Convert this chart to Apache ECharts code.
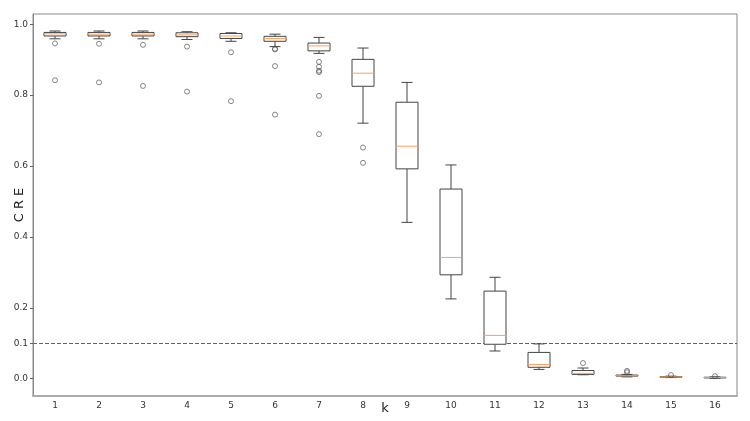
<!DOCTYPE html>
<html>
<head>
<meta charset="utf-8">
<script src="https://cdn.jsdelivr.net/npm/echarts@6/dist/echarts.min.js"></script>
<style>
  html, body { margin: 0; padding: 0; background: #fff; }
  #chart { width: 750px; height: 421px; }
</style>
</head>
<body>
<div id="chart"></div>
<script>
// k values on the x axis
const categories = ['1', '2', '3', '4', '5', '6', '7', '8', '9', '10', '11', '12', '13', '14', '15', '16'];

// box statistics per k
const whiskerLow  = [0.959, 0.959, 0.959, 0.957, 0.952, 0.937, 0.918, 0.721, 0.441, 0.225, 0.078, 0.026, 0.011, 0.005, 0.003, 0.001];
const q1          = [0.967, 0.967, 0.967, 0.965, 0.960, 0.952, 0.925, 0.825, 0.592, 0.293, 0.097, 0.032, 0.012, 0.007, 0.004, 0.002];
const median      = [0.973, 0.972, 0.972, 0.970, 0.967, 0.960, 0.939, 0.862, 0.656, 0.342, 0.122, 0.040, 0.015, 0.008, 0.005, 0.003];
const q3          = [0.977, 0.977, 0.977, 0.976, 0.974, 0.966, 0.947, 0.901, 0.780, 0.535, 0.247, 0.074, 0.023, 0.010, 0.006, 0.004];
const whiskerHigh = [0.981, 0.981, 0.981, 0.979, 0.976, 0.972, 0.963, 0.933, 0.836, 0.603, 0.286, 0.098, 0.030, 0.012, 0.007, 0.005];

// fliers: [category index, value]
const outliers = [
  [0, 0.946], [0, 0.842],
  [1, 0.945], [1, 0.836],
  [2, 0.942], [2, 0.826],
  [3, 0.937], [3, 0.810],
  [4, 0.921], [4, 0.783],
  [5, 0.931], [5, 0.929], [5, 0.882], [5, 0.745],
  [6, 0.894], [6, 0.880], [6, 0.869], [6, 0.865], [6, 0.798], [6, 0.690],
  [7, 0.652], [7, 0.609],
  [12, 0.044],
  [13, 0.022], [13, 0.018],
  [14, 0.010],
  [15, 0.007]
];

const yTicks = [0.0, 0.1, 0.2, 0.4, 0.6, 0.8, 1.0];
const threshold = 0.1;

const boxData = categories.map((c, i) => [i, whiskerLow[i], q1[i], median[i], q3[i], whiskerHigh[i]]);

const myChart = echarts.init(document.getElementById('chart'));

function renderBox(params, api) {
  const i = api.value(0);
  const lo = api.coord([i, api.value(1)]);
  const b1 = api.coord([i, api.value(2)]);
  const md = api.coord([i, api.value(3)]);
  const b3 = api.coord([i, api.value(4)]);
  const hi = api.coord([i, api.value(5)]);
  const w = api.size([1, 0])[0] * 0.5;
  const cx = lo[0];
  const stroke = { stroke: '#444', lineWidth: 1, fill: null };
  return {
    type: 'group',
    children: [
      { type: 'line', shape: { x1: cx, y1: hi[1], x2: cx, y2: b3[1] }, style: stroke },
      { type: 'line', shape: { x1: cx, y1: b1[1], x2: cx, y2: lo[1] }, style: stroke },
      { type: 'line', shape: { x1: cx - w / 4, y1: hi[1], x2: cx + w / 4, y2: hi[1] }, style: stroke },
      { type: 'line', shape: { x1: cx - w / 4, y1: lo[1], x2: cx + w / 4, y2: lo[1] }, style: stroke },
      { type: 'rect', shape: { x: cx - w / 2, y: b3[1], width: w, height: b1[1] - b3[1] },
        style: { stroke: '#444', lineWidth: 1, fill: '#fff' } },
      { type: 'line', shape: { x1: cx - w / 2, y1: md[1], x2: cx + w / 2, y2: md[1] },
        style: { stroke: '#f7a35c', lineWidth: 1 } }
    ]
  };
}

// horizontal reference line across the whole plot area
function renderThreshold(params, api) {
  const cs = params.coordSys;
  const y = Math.round(api.coord([0, api.value(1)])[1]) + 0.5;
  return {
    type: 'line',
    shape: { x1: cs.x, y1: y, x2: cs.x + cs.width, y2: y },
    style: { stroke: '#1f77b4', lineWidth: 1, lineDash: [4, 2] }
  };
}

const option = {
  animation: false,
  grid: {
    left: 33, right: 13, top: 14, bottom: 25,
    outerBoundsMode: 'none',
    containLabel: false,
    show: true, borderColor: '#888', borderWidth: 1
  },
  xAxis: {
    type: 'category',
    data: categories,
    name: 'k',
    nameLocation: 'middle',
    nameGap: 6,
    nameMoveOverlap: false,
    nameTextStyle: { fontFamily: 'DejaVu Sans', fontSize: 13, color: '#222' },
    axisLine: { onZero: false, lineStyle: { color: '#aaa', width: 2 } },
    axisTick: { alignWithLabel: true, length: 3, lineStyle: { color: '#666' } },
    axisLabel: { fontFamily: 'DejaVu Sans', fontSize: 9, color: '#333', margin: 5 },
    splitLine: { show: false }
  },
  yAxis: {
    type: 'value',
    min: -0.049,
    max: 1.029,
    name: 'C R E',
    nameLocation: 'middle',
    nameGap: 7,
    nameMoveOverlap: false,
    nameTextStyle: { fontFamily: 'DejaVu Sans', fontSize: 13, color: '#222' },
    axisLine: { show: true, lineStyle: { color: '#888', width: 1 } },
    axisTick: { show: true, length: 3, customValues: yTicks, lineStyle: { color: '#666' } },
    axisLabel: {
      fontFamily: 'DejaVu Sans', fontSize: 9, color: '#333', margin: 5,
      customValues: yTicks,
      formatter: v => v.toFixed(1)
    },
    splitLine: { show: false }
  },
  series: [
    {
      type: 'custom',
      renderItem: renderThreshold,
      encode: { x: 0, y: 1 },
      data: [[0, threshold]],
      silent: true,
      z: 1
    },
    {
      type: 'custom',
      renderItem: renderBox,
      encode: { x: 0, y: [1, 2, 3, 4, 5] },
      data: boxData,
      z: 2
    },
    {
      type: 'scatter',
      data: outliers,
      symbol: 'circle',
      symbolSize: 5,
      itemStyle: { color: 'rgba(0,0,0,0)', borderColor: '#444', borderWidth: 0.8 },
      z: 3
    }
  ]
};

myChart.setOption(option);
</script>
</body>
</html>
